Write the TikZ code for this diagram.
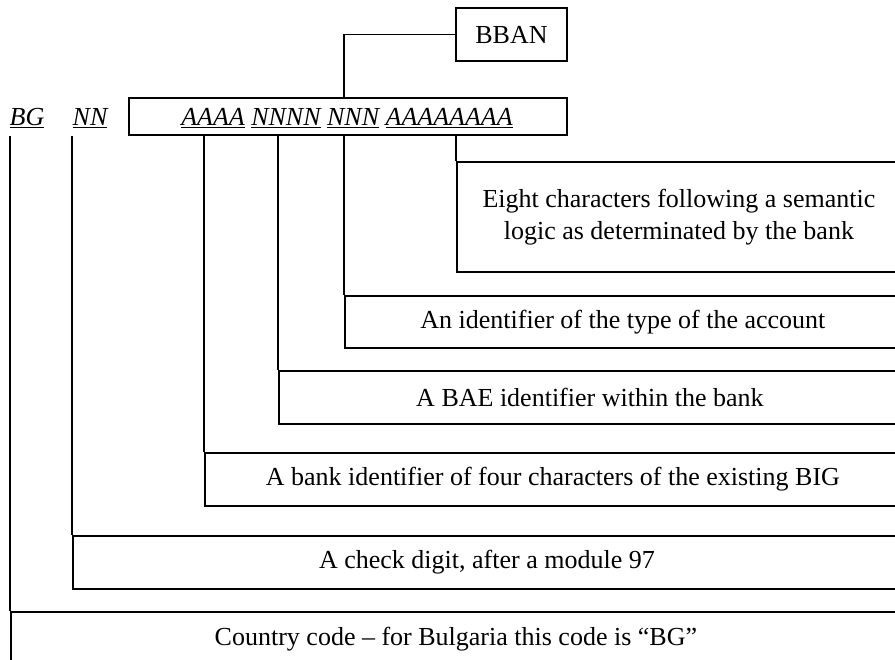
\documentclass[tikz,border=0pt]{standalone}
\usepackage{fontspec}
\setmainfont{Liberation Serif}
\begin{document}
\begin{tikzpicture}[x=1pt,y=-1pt,line width=1.8pt,
  every node/.style={font=\fontsize{26}{32}\selectfont,inner sep=0pt},
  boxed/.style={draw,anchor=center},
  desc/.style={draw,anchor=north west,align=center,minimum height=53},
  code/.style={font=\fontsize{26}{32}\selectfont\itshape}]
\useasboundingbox (0,0) rectangle (895,660);
\clip (0,0) rectangle (895,660);
% top labels
\node[boxed,minimum width=111,minimum height=53] (bban) at (511.5,34.5) {BBAN};
\node[boxed,minimum width=438,minimum height=37] (code) at (348,116.5) {};
\node[code,anchor=base] (grp) at (347,126) {\underline{AAAA} \underline{NNNN} \underline{NNN} \underline{AAAAAAAA}};
\node[code,anchor=base] (bg) at (27,126) {\underline{BG}};
\node[code,anchor=base] (nn) at (90,126) {\underline{NN}};
% description boxes
\node[desc,minimum width=444,minimum height=110] (d1) at (456,161) {Eight characters following a semantic\\logic as determinated by the bank};
\node[desc,minimum width=556,minimum height=52] (d2) at (344,295) {An identifier of the type of the account};
\node[desc,minimum width=622] (d3) at (278,370) {A BAE identifier within the bank};
\node[desc,minimum width=696] (d4) at (204,452) {A bank identifier of four characters of the existing BIG};
\node[desc,minimum width=828] (d5) at (72,535) {A check digit, after a module 97};
\node[desc,minimum width=890,minimum height=54] (d6) at (10,611) {Country code -- for Bulgaria this code is ``BG''};
% connectors
\draw (bban.west) -| (code.north -| d2.west);
\draw (code.south -| d1.west) -- (d1.north west);
\draw (code.south -| d2.west) -- (d2.north west);
\draw (code.south -| d3.west) -- (d3.north west);
\draw (code.south -| d4.west) -- (d4.north west);
\draw (code.south -| d5.west) -- (d5.north west);
\draw (code.south -| d6.west) -- (d6.north west);
\end{tikzpicture}
\end{document}
